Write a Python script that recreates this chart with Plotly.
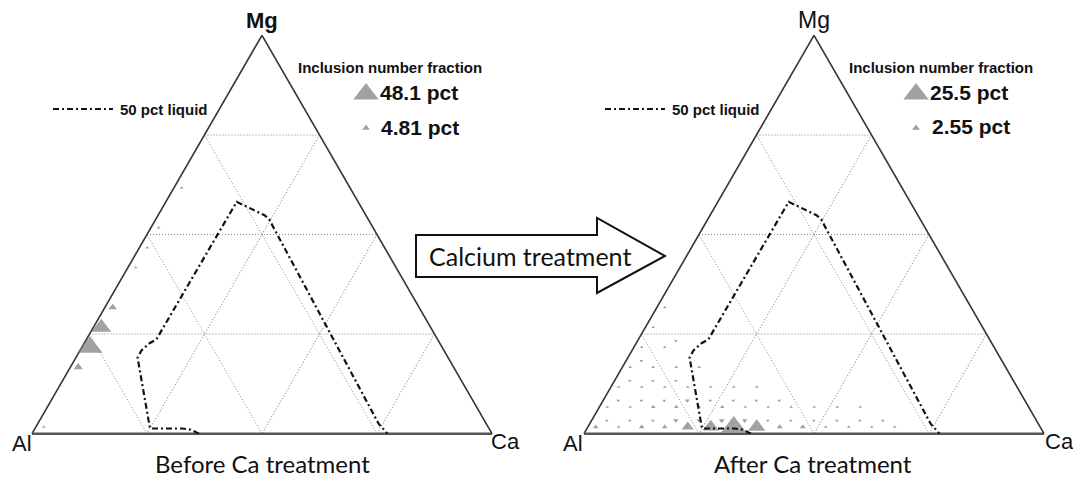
import plotly.graph_objects as go

# ---------------- data (compositions in pct: Mg, Ca; Al = rest) ----------------
# Before Ca treatment
before_mg = [1.7, 16.7, 21.7, 26.7, 31.7, 41.7, 46.7, 51.7, 61.7]
before_ca = [1.7, 1.7, 1.7, 1.7, 1.7, 1.7, 1.7, 1.7, 1.7]
before_frac = [0.8, 6.5, 48.1, 30.0, 5.5, 0.8, 0.8, 0.8, 0.8]
before_dir = ["up", "up", "up", "up", "up", "up", "up", "up", "up"]

# After Ca treatment
after_mg = ([1.7] * 14 + [3.3] * 13 + [6.7] * 12 + [8.3] * 8 + [11.7] * 7 +
            [13.3] * 3 + [16.7] * 4 + [18.3] + [21.7] * 2 + [23.3] + [26.7] + [31.7])
after_ca = ([1.7, 6.7, 11.7, 16.7, 21.7, 26.7, 31.7, 36.7, 41.7, 46.7, 51.7, 56.7, 61.7, 66.7] +
            [3.3, 8.3, 13.3, 18.3, 23.3, 28.3, 33.3, 38.3, 43.3, 48.3, 53.3, 58.3, 63.3] +
            [1.7, 6.7, 11.7, 16.7, 21.7, 26.7, 31.7, 36.7, 41.7, 46.7, 51.7, 56.7] +
            [3.3, 8.3, 13.3, 18.3, 23.3, 28.3, 33.3, 38.3] +
            [1.7, 6.7, 11.7, 16.7, 21.7, 26.7, 31.7] +
            [3.3, 8.3, 13.3] +
            [1.7, 6.7, 11.7, 16.7] +
            [3.3] +
            [1.7, 6.7] +
            [8.3] +
            [1.7] +
            [1.7])
after_frac = ([1.3, 0.4, 1.3, 1.3, 6.0, 11.0, 25.5, 12.0, 1.5, 1.5, 0.4, 0.3, 0.3, 0.3] +
              [0.3, 0.3, 0.4, 1.3, 0.8, 1.5, 1.3, 0.5, 0.3, 0.3, 0.3, 0.2, 0.2] +
              [0.4, 0.4, 1.0, 1.0, 0.5, 0.8, 0.5, 0.4, 0.3, 0.3, 0.3, 0.2] +
              [0.3, 0.3, 0.5, 1.0, 0.4, 0.3, 0.3, 0.3] +
              [0.5, 0.5, 0.5, 0.5, 0.3, 0.3, 0.3] +
              [0.2, 0.3, 0.3] +
              [0.3, 0.3, 0.2, 0.2] +
              [0.2] +
              [0.3, 0.2] +
              [0.3] +
              [0.2] +
              [0.2])
after_dir = (["up"] * 14 + ["down"] * 13 + ["up"] * 12 + ["down"] * 8 + ["up"] * 7 +
             ["down"] * 3 + ["up"] * 4 + ["down"] + ["up"] * 2 + ["down"] + ["up"] + ["up"])

# 50 pct liquid boundary
liquid_mg = [0.0, 1.0, 1.3, 1.3, 19.1, 20.9, 22.7, 23.7, 58.2, 54.9, 53.9, 52.1, 2.5, 0.0]
liquid_ca = [36.3, 34.0, 32.0, 25.0, 13.4, 13.35, 14.2, 15.2, 15.4, 23.0, 24.6, 26.3, 74.1, 77.3]

legend_before = [48.1, 4.81]
legend_after = [25.5, 2.55]
legend_before_labels = ["48.1 pct", "4.81 pct"]
legend_after_labels = ["25.5 pct", "2.55 pct"]

# ---------------- styling ----------------
W, H = 1073, 478
GRAY = "#7a7a7a"
SANS = "Liberation Sans, Arial, sans-serif"
CAL = "Lato, Carlito, Calibri, sans-serif"
DASHDOT = "6px,3px,2px,3px"
RMAX = 11.0
ref_before = max(legend_before) / (2 * RMAX ** 2)
ref_after = max(legend_after) / (2 * RMAX ** 2)

def sym(d):
    return ["triangle-up" if s == "up" else "triangle-down" for s in d]

fig = go.Figure()

def add_panel(sub, mg, ca, frac, d, sref):
    al = [100 - m - c for m, c in zip(mg, ca)]
    fig.add_trace(go.Scatterternary(
        subplot=sub, a=mg, b=al, c=ca, mode="markers", cliponaxis=False,
        marker=dict(symbol=sym(d), size=frac, sizemode="area", sizeref=sref, sizemin=1.6,
                    color=GRAY, line=dict(width=0)),
        showlegend=False, hoverinfo="skip"))
    lal = [100 - m - c for m, c in zip(liquid_mg, liquid_ca)]
    fig.add_trace(go.Scatterternary(
        subplot=sub, a=liquid_mg, b=lal, c=liquid_ca, mode="lines", cliponaxis=False,
        line=dict(color="#111", width=2.2, dash=DASHDOT),
        showlegend=False, hoverinfo="skip"))

add_panel("ternary", before_mg, before_ca, before_frac, before_dir, ref_before)
add_panel("ternary2", after_mg, after_ca, after_frac, after_dir, ref_after)

# legend symbols (overlay pixel axes)
for x0, vals, sref in [(366, legend_before, ref_before), (916, legend_after, ref_after)]:
    fig.add_trace(go.Scatter(
        x=[x0, x0], y=[94, 128], mode="markers",
        marker=dict(symbol="triangle-up", size=vals, sizemode="area", sizeref=sref,
                    color=GRAY, line=dict(width=0)),
        showlegend=False, hoverinfo="skip"))
for x0 in (53, 605):
    fig.add_trace(go.Scatter(
        x=[x0, x0 + 60], y=[109, 109], mode="lines",
        line=dict(color="#111", width=2, dash=DASHDOT),
        showlegend=False, hoverinfo="skip"))

def axis(lw=1.6, lc="#333"):
    return dict(showticklabels=False, ticks="", showgrid=True, gridcolor="#858585",
                griddash="1px,2px", gridwidth=1, tick0=0, dtick=25, min=0,
                linecolor=lc, linewidth=lw, title=dict(text=""), layer="below traces")

def tern(x0, x1):
    return dict(sum=100, bgcolor="rgba(0,0,0,0)",
                domain=dict(x=[x0 / W, x1 / W], y=[1 - 434 / H, 1 - 35 / H]),
                aaxis=axis(), baxis=axis(2.6, "#555"), caxis=axis())

ann = []
def text(x, y, s, size, family=SANS, bold=False, anchor="center"):
    ann.append(dict(x=x, y=y, xref="x", yref="y", text=("<b>%s</b>" % s) if bold else s,
                    showarrow=False, xanchor=anchor, yanchor="middle",
                    font=dict(family=family, size=size, color="#111")))

text(262, 20, "Mg", 22, bold=True)
text(814, 20, "Mg", 23)
text(22, 443, "Al", 22)
text(505, 441, "Ca", 22)
text(573, 443, "Al", 22)
text(1059, 441, "Ca", 22)
text(262, 463, "Before Ca treatment", 24, family=CAL)
text(813, 463, "After Ca treatment", 24, family=CAL)
text(530, 256, "Calcium treatment", 25, family=CAL)
text(296, 67, "Inclusion number fraction", 15, bold=True, anchor="left")
text(847, 67, "Inclusion number fraction", 15, bold=True, anchor="left")
text(378, 92, legend_before_labels[0], 21, bold=True, anchor="left")
text(379, 127, legend_before_labels[1], 21, bold=True, anchor="left")
text(928, 92, legend_after_labels[0], 21, bold=True, anchor="left")
text(930, 126, legend_after_labels[1], 21, bold=True, anchor="left")
text(118, 109, "50 pct liquid", 15, bold=True, anchor="left")
text(670, 109, "50 pct liquid", 15, bold=True, anchor="left")

arrow = "M416,235 L597,235 L597,218 L665,256 L597,293 L597,277 L416,277 Z"

fig.update_layout(
    width=W, height=H, autosize=False,
    margin=dict(l=0, r=0, t=0, b=0),
    paper_bgcolor="white", plot_bgcolor="rgba(0,0,0,0)",
    showlegend=False,
    xaxis=dict(range=[0, W], visible=False, fixedrange=True, domain=[0, 1]),
    yaxis=dict(range=[H, 0], visible=False, fixedrange=True, domain=[0, 1]),
    ternary=tern(32, 492),
    ternary2=tern(584, 1044),
    annotations=ann,
    shapes=[dict(type="path", path=arrow, xref="x", yref="y",
                 line=dict(color="#111", width=2), fillcolor="white", layer="below")],
)

fig.write_html("out.html")
